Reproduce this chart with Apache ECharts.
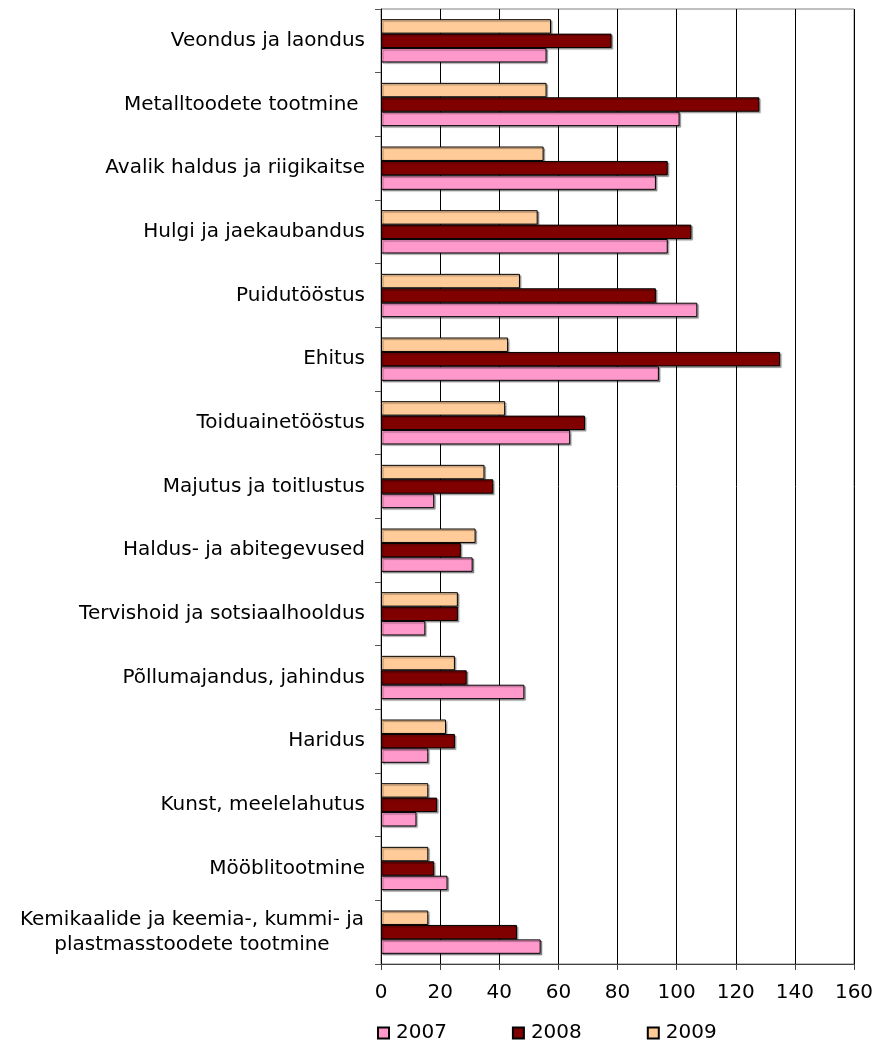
<!DOCTYPE html>
<html>
<head>
<meta charset="utf-8">
<script src="https://cdn.jsdelivr.net/npm/echarts@6/dist/echarts.min.js"></script>
<style>
  html, body { margin: 0; padding: 0; background: #fff; }
  #chart { width: 881px; height: 1040px; }
</style>
</head>
<body>
<div id="chart"></div>
<script>
// categories, top to bottom as in the picture
var categories = [
    'Veondus ja laondus',
    'Metalltoodete tootmine ',
    'Avalik haldus ja riigikaitse',
    'Hulgi ja jaekaubandus',
    'Puidutööstus',
    'Ehitus',
    'Toiduainetööstus',
    'Majutus ja toitlustus',
    'Haldus- ja abitegevused',
    'Tervishoid ja sotsiaalhooldus',
    'Põllumajandus, jahindus',
    'Haridus',
    'Kunst, meelelahutus',
    'Mööblitootmine',
    'Kemikaalide ja keemia-, kummi- ja\nplastmasstoodete tootmine'
]

var years = ['2007', '2008', '2009']

var values2007 = [56, 101, 93, 97, 107, 94, 64, 18, 31, 15, 48.5, 16, 12, 22.5, 54]
var values2008 = [78, 128, 97, 105, 93, 135, 69, 38, 27, 26, 29, 25, 19, 18, 46]
var values2009 = [57.5, 56, 55, 53, 47, 43, 42, 35, 32, 26, 25, 22, 16, 16, 16]

var xTicks = { min: 0, max: 160, interval: 20 }

var chart = echarts.init(document.getElementById('chart'))

var font = 'DejaVu Sans, Verdana, sans-serif'
var fs = 20

function barStyle(color) {
    return {
        color: color,
        borderColor: '#000',
        borderWidth: 1,
        shadowColor: 'rgba(0,0,0,0.35)',
        shadowOffsetX: 1.5,
        shadowOffsetY: 1.5,
        shadowBlur: 1
    }
}

chart.setOption({
    animation: false,
    textStyle: { fontFamily: font, color: '#000' },
    grid: {
        left: 381,
        right: 27,
        top: 9,
        bottom: 76,
        show: true,
        borderColor: '#808080',
        borderWidth: 1
    },
    legend: {
        data: years,
        left: 377,
        top: 1023,
        padding: 0,
        icon: 'rect',
        itemWidth: 11,
        itemHeight: 11,
        itemGap: 65,
        textStyle: { fontSize: fs, fontFamily: font, color: '#000', padding: [0, 0, 0, 2] }
    },
    xAxis: {
        type: 'value',
        min: xTicks.min,
        max: xTicks.max,
        interval: xTicks.interval,
        axisLine: { show: true, lineStyle: { color: '#404040' } },
        axisTick: { show: true, length: 6, lineStyle: { color: '#404040' } },
        axisLabel: { fontSize: fs, fontFamily: font, color: '#000', margin: 19 },
        splitLine: { show: true, lineStyle: { color: '#000', width: 1 } }
    },
    yAxis: {
        type: 'category',
        inverse: true,
        data: categories,
        axisLine: { show: true, lineStyle: { color: '#000' } },
        axisTick: { show: true, length: 6, alignWithLabel: false, lineStyle: { color: '#555' } },
        axisLabel: {
            fontSize: fs,
            fontFamily: font,
            color: '#000',
            margin: 16,
            formatter: function (v) {
                if (v.indexOf('\n') < 0) return v
                return v.split('\n').map(function (s) { return '{w|' + s + '}' }).join('\n')
            },
            rich: {
                w: { width: 346, align: 'center', fontSize: fs, fontFamily: font, color: '#000', lineHeight: 25 }
            }
        }
    },
    series: [
        {
            name: '2009',
            type: 'bar',
            barGap: '0%',
            barCategoryGap: '32%',
            itemStyle: barStyle('#FFCC99'),
            data: values2009
        },
        {
            name: '2008',
            type: 'bar',
            barGap: '0%',
            barCategoryGap: '32%',
            itemStyle: barStyle('#800000'),
            data: values2008
        },
        {
            name: '2007',
            type: 'bar',
            barGap: '0%',
            barCategoryGap: '32%',
            itemStyle: barStyle('#FF99CC'),
            data: values2007
        }
    ]
})
</script>
</body>
</html>
